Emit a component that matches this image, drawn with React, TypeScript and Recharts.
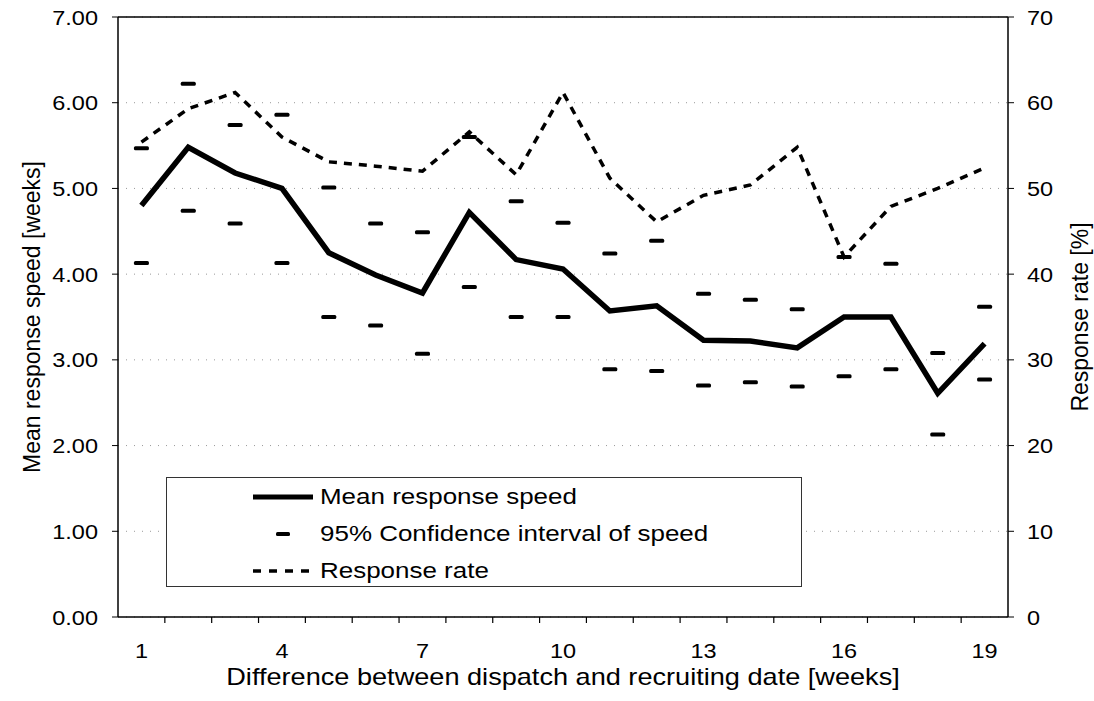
import { LineChart, Line, XAxis, YAxis, CartesianGrid, Legend, ReferenceLine, Label } from "recharts"

const weeks = [1, 2, 3, 4, 5, 6, 7, 8, 9, 10, 11, 12, 13, 14, 15, 16, 17, 18, 19]
const meanSpeed = [4.8, 5.48, 5.18, 5.0, 4.25, 3.99, 3.78, 4.72, 4.17, 4.06, 3.57, 3.63, 3.23, 3.22, 3.14, 3.5, 3.5, 2.61, 3.19]
const ciUpper = [5.47, 6.22, 5.74, 5.86, 5.01, 4.59, 4.49, 5.6, 4.85, 4.6, 4.24, 4.39, 3.77, 3.7, 3.59, 4.2, 4.12, 3.08, 3.62]
const ciLower = [4.13, 4.74, 4.59, 4.13, 3.5, 3.4, 3.07, 3.85, 3.5, 3.5, 2.89, 2.87, 2.7, 2.74, 2.69, 2.81, 2.89, 2.13, 2.77]
const responseRate = [55.4, 59.3, 61.2, 56.0, 53.1, 52.6, 52.0, 56.6, 51.6, 61.2, 51.2, 46.1, 49.2, 50.4, 54.8, 42.0, 47.9, 50.0, 52.4]

const xLabelTicks = [1, 4, 7, 10, 13, 16, 19]
const speedTicks = [0, 1, 2, 3, 4, 5, 6, 7]
const rateTicks = [0, 10, 20, 30, 40, 50, 60, 70]

const data = weeks.map((w, i) => ({
  week: w,
  speed: meanSpeed[i],
  upper: ciUpper[i],
  lower: ciLower[i],
  rate: responseRate[i],
}))

// tick marks sit between the categories, labels on every third category
const boundaryTicks = weeks.slice(0, -1).map((w) => w + 0.5)
const allXTicks = [...boundaryTicks, ...xLabelTicks].sort((a, b) => a - b)

const FONT = "'Liberation Sans', Arial, Helvetica, sans-serif"
// the original scan is stretched sideways, so horizontal text is widened
const STRETCH = 1.18

function WideText({ x, y, anchor, size, stretch = STRETCH, children }: any) {
  return (
    <text
      transform={`translate(${x},${y}) scale(${stretch},1)`}
      textAnchor={anchor}
      fontSize={size}
      fontFamily={FONT}
      fill="#000"
    >
      {children}
    </text>
  )
}

function XTick(props: any) {
  const { x, y, payload } = props
  if (xLabelTicks.includes(payload.value)) {
    return (
      <WideText x={x} y={y + 35} anchor="middle" size={21} stretch={1.12}>
        {payload.value}
      </WideText>
    )
  }
  return <line x1={x} x2={x} y1={y - 6} y2={y} stroke="#000" strokeWidth={1.2} />
}

function LeftTick(props: any) {
  const { x, y, payload } = props
  return (
    <WideText x={x} y={y + 7.5} anchor="end" size={21} stretch={1.12}>
      {payload.value.toFixed(2)}
    </WideText>
  )
}

function RightTick(props: any) {
  const { x, y, payload } = props
  return (
    <WideText x={x} y={y + 7.5} anchor="start" size={21} stretch={1.12}>
      {payload.value}
    </WideText>
  )
}

function XTitle(props: any) {
  const vb = props.viewBox || { x: 118, y: 617, width: 890, height: 84 }
  return (
    <WideText x={vb.x + vb.width / 2} y={vb.y + vb.height - 16} anchor="middle" size={23}>
      Difference between dispatch and recruiting date [weeks]
    </WideText>
  )
}

function CiMark(props: any) {
  const { cx, cy } = props
  if (cx == null || cy == null) return null
  return <rect x={cx - 7.5} y={cy - 2} width={15} height={4} rx={1.5} fill="#000" />
}

function LegendBox() {
  const rowStyle = { display: "flex", alignItems: "center", height: 37 }
  const textStyle = {
    fontSize: 22,
    fontFamily: FONT,
    color: "#000",
    marginLeft: 7,
    display: "inline-block",
    transform: `scaleX(${STRETCH})`,
    transformOrigin: "left center",
    whiteSpace: "nowrap" as const,
  }
  return (
    <div
      style={{
        width: 636,
        height: 110,
        boxSizing: "border-box",
        border: "1.5px solid #333",
        background: "#fff",
        paddingLeft: 86,
      }}
    >
      <div style={rowStyle}>
        <svg width={60} height={10}>
          <line x1={0} x2={60} y1={5} y2={5} stroke="#000" strokeWidth={5} />
        </svg>
        <span style={textStyle}>Mean response speed</span>
      </div>
      <div style={rowStyle}>
        <svg width={60} height={10}>
          <rect x={23} y={3} width={14} height={4} rx={1.5} fill="#000" />
        </svg>
        <span style={textStyle}>95% Confidence interval of speed</span>
      </div>
      <div style={rowStyle}>
        <svg width={60} height={10}>
          <line x1={0} x2={60} y1={5} y2={5} stroke="#000" strokeWidth={3.5} strokeDasharray="8 8" />
        </svg>
        <span style={textStyle}>Response rate</span>
      </div>
    </div>
  )
}

export default function App() {
  return (
    <div style={{ position: "absolute", left: 0, top: 0, background: "#fff" }}>
      <LineChart width={1094} height={701} data={data} margin={{ top: 17, right: 0, bottom: 0, left: 0 }}>
        <CartesianGrid yAxisId="left" vertical={false} stroke="#999" strokeDasharray="1 7" />
        <XAxis
          dataKey="week"
          type="number"
          domain={[0.5, 19.5]}
          ticks={allXTicks}
          interval={0}
          height={84}
          tickSize={6}
          tickMargin={0}
          tickLine={false}
          tick={<XTick />}
          axisLine={{ stroke: "#000", strokeWidth: 1.5 }}
        >
          <Label content={<XTitle />} />
        </XAxis>
        <YAxis
          yAxisId="left"
          domain={[0, 7]}
          ticks={speedTicks}
          width={118}
          tickSize={6}
          tickMargin={14}
          tick={<LeftTick />}
          tickLine={{ stroke: "#000" }}
          axisLine={{ stroke: "#000", strokeWidth: 1.5 }}
          label={{
            value: "Mean response speed [weeks]",
            angle: -90,
            position: "center",
            dx: -27,
            fontSize: 23,
            fontFamily: FONT,
            fill: "#000",
          }}
        />
        <YAxis
          yAxisId="right"
          orientation="right"
          domain={[0, 70]}
          ticks={rateTicks}
          width={86}
          tickSize={6}
          tickMargin={13}
          tick={<RightTick />}
          tickLine={{ stroke: "#000" }}
          axisLine={{ stroke: "#000", strokeWidth: 1.5 }}
          label={{
            value: "Response rate [%]",
            angle: -90,
            position: "center",
            dx: 29,
            fontSize: 23,
            fontFamily: FONT,
            fill: "#000",
          }}
        />
        <ReferenceLine yAxisId="left" y={7} stroke="#000" strokeWidth={1.5} />
        <Line
          yAxisId="right"
          dataKey="rate"
          stroke="#000"
          strokeWidth={3.5}
          strokeDasharray="8 7"
          dot={false}
          isAnimationActive={false}
        />
        <Line
          yAxisId="left"
          dataKey="upper"
          stroke="none"
          dot={(p: any) => <CiMark key={`u-${p.index}`} {...p} />}
          activeDot={false}
          isAnimationActive={false}
        />
        <Line
          yAxisId="left"
          dataKey="lower"
          stroke="none"
          dot={(p: any) => <CiMark key={`l-${p.index}`} {...p} />}
          activeDot={false}
          isAnimationActive={false}
        />
        <Line
          yAxisId="left"
          dataKey="speed"
          stroke="#000"
          strokeWidth={5.5}
          dot={false}
          isAnimationActive={false}
        />
        <Legend
          layout="horizontal"
          align="center"
          verticalAlign="middle"
          content={<LegendBox />}
          wrapperStyle={{ position: "absolute", left: 166, top: 477, width: 636, height: 110 }}
        />
      </LineChart>
    </div>
  )
}
